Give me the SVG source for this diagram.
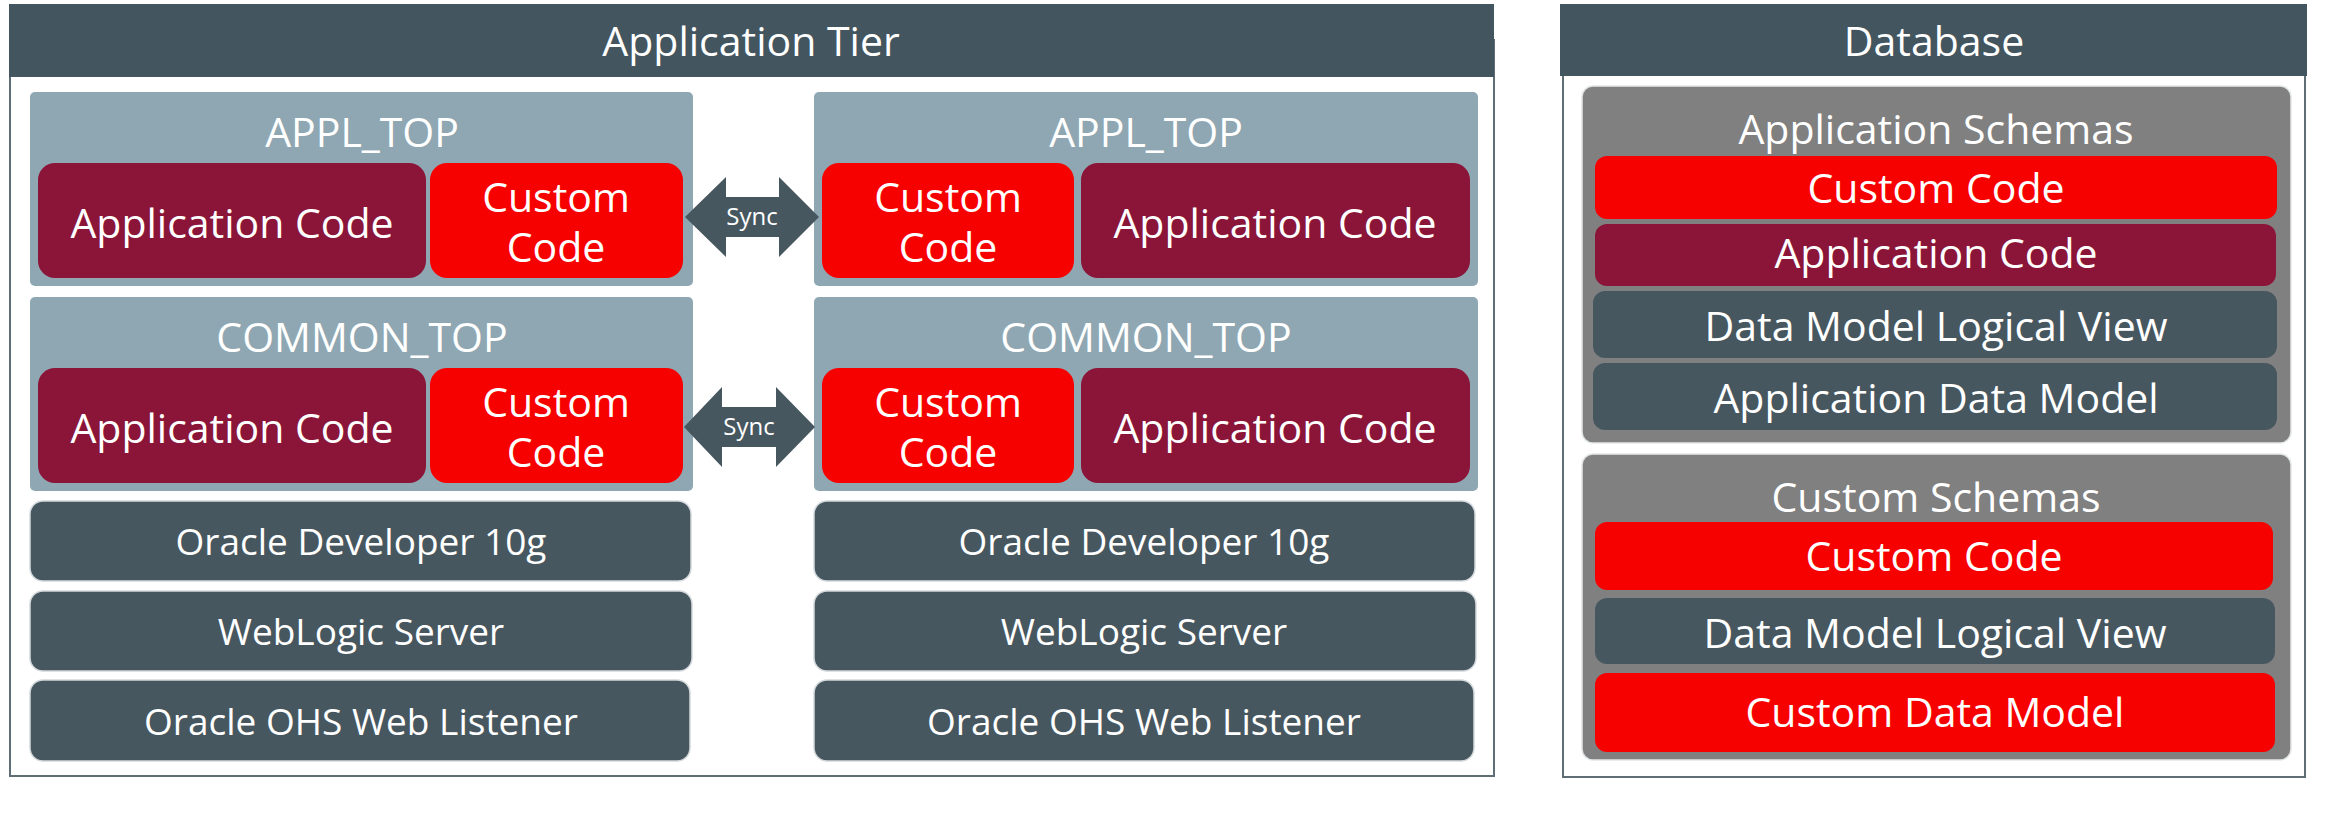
<svg xmlns="http://www.w3.org/2000/svg" width="2334" height="825" viewBox="0 0 2334 825">
  <style>
    .t { font-family: "Open Sans", "Noto Sans", "Liberation Sans", sans-serif; fill: #ffffff; text-anchor: middle; }
    .big { font-size: 41px; }
    .mid { font-size: 37px; }
    .sm { font-size: 24px; }
    .hdr { fill: #43555f; }
    .frame { fill: #ffffff; stroke: #5f6d75; stroke-width: 2; }
    .top { fill: #8fa7b2; }
    .app { fill: #8a1538; }
    .cust { fill: #f70000; }
    .stack { fill: #47575f; stroke: #d3d9dc; stroke-width: 1.5; }
    .dbdark { fill: #47575f; }
    .schema { fill: #808080; stroke: #e3e6e8; stroke-width: 1.5; }
    .arrow { fill: #47575f; }
  </style>

  <g id="application-tier">
    <rect class="frame" x="10" y="40" width="1484" height="736"/>
    <rect class="hdr" x="9" y="4" width="1485" height="73"/>
    <text class="t big" x="751" y="56">Application Tier</text>
  </g>

  <g id="database">
    <rect class="frame" x="1563" y="40" width="742" height="737"/>
    <rect class="hdr" x="1560" y="4" width="747" height="72"/>
    <text class="t big" x="1934" y="56">Database</text>
  </g>

  <g id="left-appl-top">
    <rect class="top" x="30" y="92" width="663" height="194" rx="5"/>
    <text class="t big" x="362" y="147">APPL_TOP</text>
  </g>
  <g id="left-appl-app-code">
    <rect class="app" x="38" y="163" width="388" height="115" rx="17"/>
    <text class="t big" x="232" y="238">Application Code</text>
  </g>
  <g id="left-appl-custom-code">
    <rect class="cust" x="430" y="163" width="253" height="115" rx="17"/>
    <text class="t big" x="556" y="212">Custom<tspan x="556" y="262">Code</tspan></text>
  </g>

  <g id="right-appl-top">
    <rect class="top" x="814" y="92" width="664" height="194" rx="5"/>
    <text class="t big" x="1146" y="147">APPL_TOP</text>
  </g>
  <g id="right-appl-custom-code">
    <rect class="cust" x="822" y="163" width="252" height="115" rx="17"/>
    <text class="t big" x="948" y="212">Custom<tspan x="948" y="262">Code</tspan></text>
  </g>
  <g id="right-appl-app-code">
    <rect class="app" x="1081" y="163" width="389" height="115" rx="17"/>
    <text class="t big" x="1275" y="238">Application Code</text>
  </g>

  <g id="left-common-top">
    <rect class="top" x="30" y="297" width="663" height="194" rx="5"/>
    <text class="t big" x="362" y="352">COMMON_TOP</text>
  </g>
  <g id="left-common-app-code">
    <rect class="app" x="38" y="368" width="388" height="115" rx="17"/>
    <text class="t big" x="232" y="443">Application Code</text>
  </g>
  <g id="left-common-custom-code">
    <rect class="cust" x="430" y="368" width="253" height="115" rx="17"/>
    <text class="t big" x="556" y="417">Custom<tspan x="556" y="467">Code</tspan></text>
  </g>

  <g id="right-common-top">
    <rect class="top" x="814" y="297" width="664" height="194" rx="5"/>
    <text class="t big" x="1146" y="352">COMMON_TOP</text>
  </g>
  <g id="right-common-custom-code">
    <rect class="cust" x="822" y="368" width="252" height="115" rx="17"/>
    <text class="t big" x="948" y="417">Custom<tspan x="948" y="467">Code</tspan></text>
  </g>
  <g id="right-common-app-code">
    <rect class="app" x="1081" y="368" width="389" height="115" rx="17"/>
    <text class="t big" x="1275" y="443">Application Code</text>
  </g>

  <g id="left-oracle-developer">
    <rect class="stack" x="30" y="501" width="661" height="80" rx="13"/>
    <text class="t mid" x="361" y="555">Oracle Developer 10g</text>
  </g>
  <g id="left-weblogic">
    <rect class="stack" x="30" y="591" width="662" height="80" rx="13"/>
    <text class="t mid" x="361" y="645">WebLogic Server</text>
  </g>
  <g id="left-ohs">
    <rect class="stack" x="30" y="680" width="660" height="81" rx="13"/>
    <text class="t mid" x="361" y="735">Oracle OHS Web Listener</text>
  </g>

  <g id="right-oracle-developer">
    <rect class="stack" x="814" y="501" width="661" height="80" rx="13"/>
    <text class="t mid" x="1144" y="555">Oracle Developer 10g</text>
  </g>
  <g id="right-weblogic">
    <rect class="stack" x="814" y="591" width="662" height="80" rx="13"/>
    <text class="t mid" x="1144" y="645">WebLogic Server</text>
  </g>
  <g id="right-ohs">
    <rect class="stack" x="814" y="680" width="660" height="81" rx="13"/>
    <text class="t mid" x="1144" y="735">Oracle OHS Web Listener</text>
  </g>

  <g id="application-schemas">
    <rect class="schema" x="1582" y="86" width="709" height="357" rx="11"/>
    <text class="t big" x="1936" y="144">Application Schemas</text>
  </g>
  <g id="db-app-custom-code">
    <rect class="cust" x="1595" y="156" width="682" height="63" rx="12"/>
    <text class="t big" x="1936" y="203">Custom Code</text>
  </g>
  <g id="db-app-application-code">
    <rect class="app" x="1595" y="224" width="681" height="62" rx="12"/>
    <text class="t big" x="1936" y="268">Application Code</text>
  </g>
  <g id="db-app-logical-view">
    <rect class="dbdark" x="1593" y="291" width="684" height="67" rx="12"/>
    <text class="t big" x="1936" y="341">Data Model Logical View</text>
  </g>
  <g id="db-app-data-model">
    <rect class="dbdark" x="1593" y="363" width="684" height="67" rx="12"/>
    <text class="t big" x="1936" y="413">Application Data Model</text>
  </g>

  <g id="custom-schemas">
    <rect class="schema" x="1582" y="454" width="709" height="306" rx="11"/>
    <text class="t big" x="1936" y="512">Custom Schemas</text>
  </g>
  <g id="db-cust-custom-code">
    <rect class="cust" x="1595" y="522" width="678" height="68" rx="12"/>
    <text class="t big" x="1934" y="571">Custom Code</text>
  </g>
  <g id="db-cust-logical-view">
    <rect class="dbdark" x="1595" y="598" width="680" height="66" rx="12"/>
    <text class="t big" x="1935" y="648">Data Model Logical View</text>
  </g>
  <g id="db-cust-data-model">
    <rect class="cust" x="1595" y="673" width="680" height="79" rx="12"/>
    <text class="t big" x="1935" y="727">Custom Data Model</text>
  </g>

  <g id="connectors">
    <g id="sync-appl">
      <polygon class="arrow" points="685,217 726,177 726,197 779,197 779,177 819,217 779,257 779,237 726,237 726,257"/>
      <text class="t sm" x="752" y="225">Sync</text>
    </g>
    <g id="sync-common">
      <polygon class="arrow" points="684,427 722,387 722,407 776,407 776,387 815,427 776,467 776,447 722,447 722,467"/>
      <text class="t sm" x="749" y="435">Sync</text>
    </g>
  </g>
</svg>
